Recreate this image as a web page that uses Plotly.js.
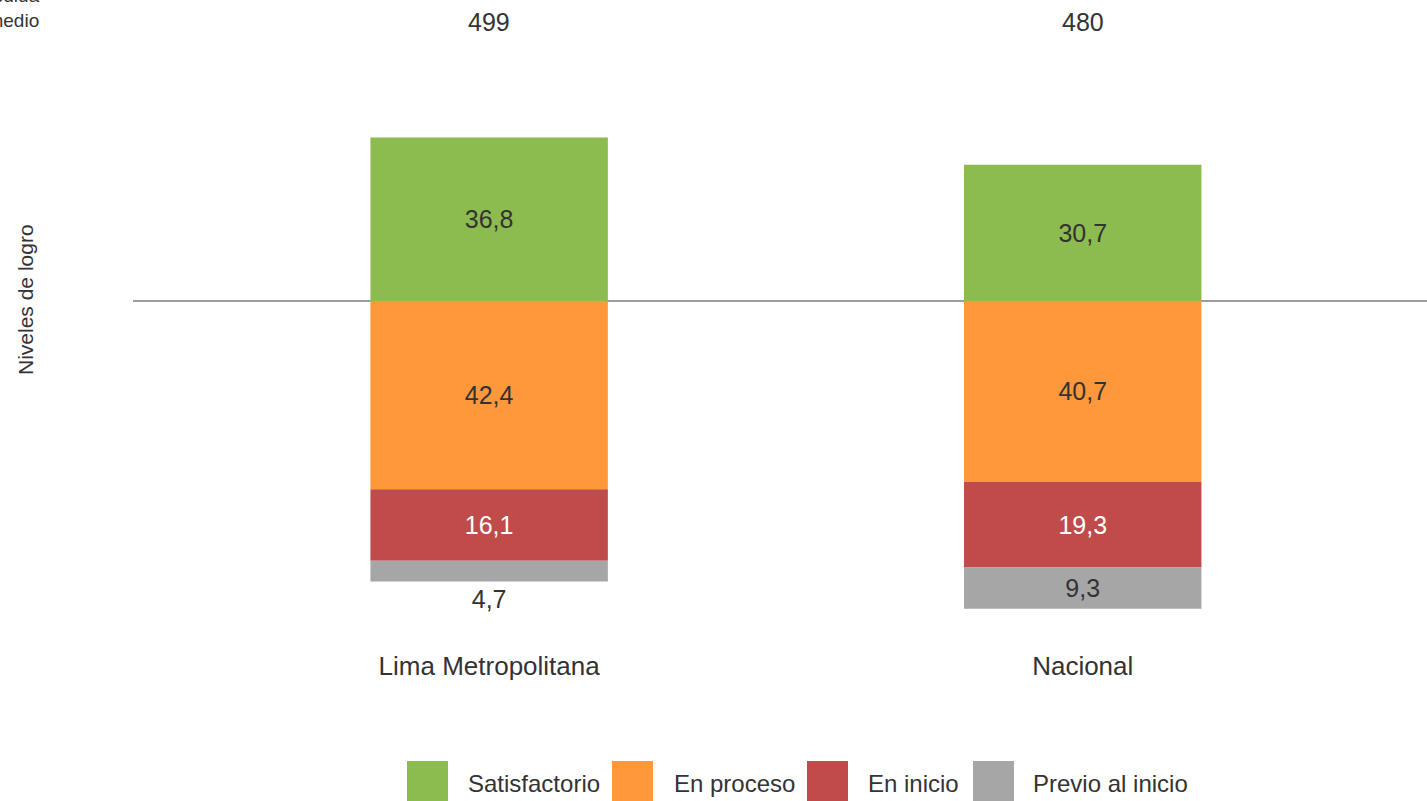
<!DOCTYPE html>
<html>
<head>
<meta charset="utf-8">
<script src="https://cdn.plot.ly/plotly-3.0.1.min.js"></script>
<style>html,body{margin:0;padding:0;background:#fff;overflow:hidden}#chart{width:1427px;height:801px}</style>
</head>
<body>
<div id="chart"></div>
<script>
// ---- data ----
const categories = ['Lima Metropolitana', 'Nacional'];
const promedio = [499, 480];
const satisfactorio = [36.8, 30.7];
const enProceso = [42.4, 40.7];
const enInicio = [16.1, 19.3];
const previoInicio = [4.7, 9.3];
const seriesNames = ['Satisfactorio', 'En proceso', 'En inicio', 'Previo al inicio'];
const seriesColors = ['#8CBC4F', '#FF983B', '#C04B4B', '#A6A6A6'];
const labelColors = ['#333333', '#333333', '#FFFFFF', '#333333'];
const yTitle = 'Niveles de logro';
const avgTitle = 'Medida<br>promedio';

// ---- layout geometry ----
const W = 1427, H = 801;
const mL = 133, mR = 0, mT = 50, mB = 153;
const pw = W - mL - mR, ph = H - mT - mB;
const px2x = p => (p - mL) / pw;
const px2y = p => (H - mB - p) / ph;
const FONT = 'Liberation Sans, Arial, sans-serif';
const fmt = v => v.toFixed(1).replace('.', ',');
const zeroPx = 301, pxPerUnit = 4.44;

const seriesValues = [satisfactorio, enProceso, enInicio, previoInicio];
const signs = [1, -1, -1, -1];

const traces = seriesValues.map((vals, i) => ({
  type: 'bar',
  name: seriesNames[i],
  x: categories,
  y: vals.map(v => signs[i] * v),
  text: vals.map(fmt),
  textposition: i === 3 ? vals.map(v => v < 6 ? 'outside' : 'inside') : 'inside',
  insidetextanchor: 'middle',
  textangle: 0,
  constraintext: 'none',
  cliponaxis: false,
  textfont: {family: FONT, size: 25, color: labelColors[i]},
  outsidetextfont: {family: FONT, size: 25, color: '#333333'},
  marker: {color: seriesColors[i], line: {width: 0}},
  width: 0.4,
  hoverinfo: 'skip',
  showlegend: false
}));

const annotations = [];
categories.forEach((c, i) => {
  annotations.push({
    x: c, xref: 'x', y: px2y(22), yref: 'paper',
    text: String(promedio[i]), showarrow: false,
    xanchor: 'center', yanchor: 'middle',
    font: {family: FONT, size: 25, color: '#333333'}
  });
});
annotations.push({
  x: px2x(25), xref: 'paper', y: px2y(299), yref: 'paper',
  text: yTitle, textangle: -90, showarrow: false,
  xanchor: 'center', yanchor: 'middle',
  font: {family: FONT, size: 21, color: '#333333'}
});
annotations.push({
  x: px2x(42), xref: 'paper', y: px2y(8), yref: 'paper',
  text: avgTitle, showarrow: false, align: 'right',
  xanchor: 'right', yanchor: 'middle',
  font: {family: FONT, size: 19, color: '#333333'}
});

// custom legend
const legSquareX = [407, 612, 807, 973];
const legTextX = [466, 672, 866, 1031];
const shapes = [];
seriesNames.forEach((n, i) => {
  shapes.push({
    type: 'rect', xref: 'paper', yref: 'paper',
    x0: px2x(legSquareX[i]), x1: px2x(legSquareX[i] + 41),
    y0: px2y(761), y1: px2y(805),
    fillcolor: seriesColors[i], line: {width: 0}
  });
  annotations.push({
    x: px2x(legTextX[i]), xref: 'paper', y: px2y(783), yref: 'paper',
    text: n, showarrow: false, xanchor: 'left', yanchor: 'middle',
    font: {family: FONT, size: 24, color: '#333333'}
  });
});

const layout = {
  width: W, height: H,
  margin: {l: mL, r: mR, t: mT, b: mB, pad: 0},
  paper_bgcolor: '#ffffff', plot_bgcolor: '#ffffff',
  barmode: 'relative',
  showlegend: false,
  xaxis: {
    type: 'category', range: [-0.6, 1.58],
    showgrid: false, zeroline: false, showline: false, ticks: '',
    tickfont: {family: FONT, size: 26, color: '#333333'},
    fixedrange: true
  },
  yaxis: {
    range: [-(H - mB - zeroPx) / pxPerUnit, (zeroPx - mT) / pxPerUnit],
    showgrid: false, showticklabels: false, ticks: '', showline: false,
    zeroline: true, zerolinecolor: '#9E9E9E', zerolinewidth: 2,
    fixedrange: true
  },
  annotations: annotations,
  shapes: shapes
};

Plotly.newPlot('chart', traces, layout, {displayModeBar: false, staticPlot: true});
</script>
</body>
</html>
